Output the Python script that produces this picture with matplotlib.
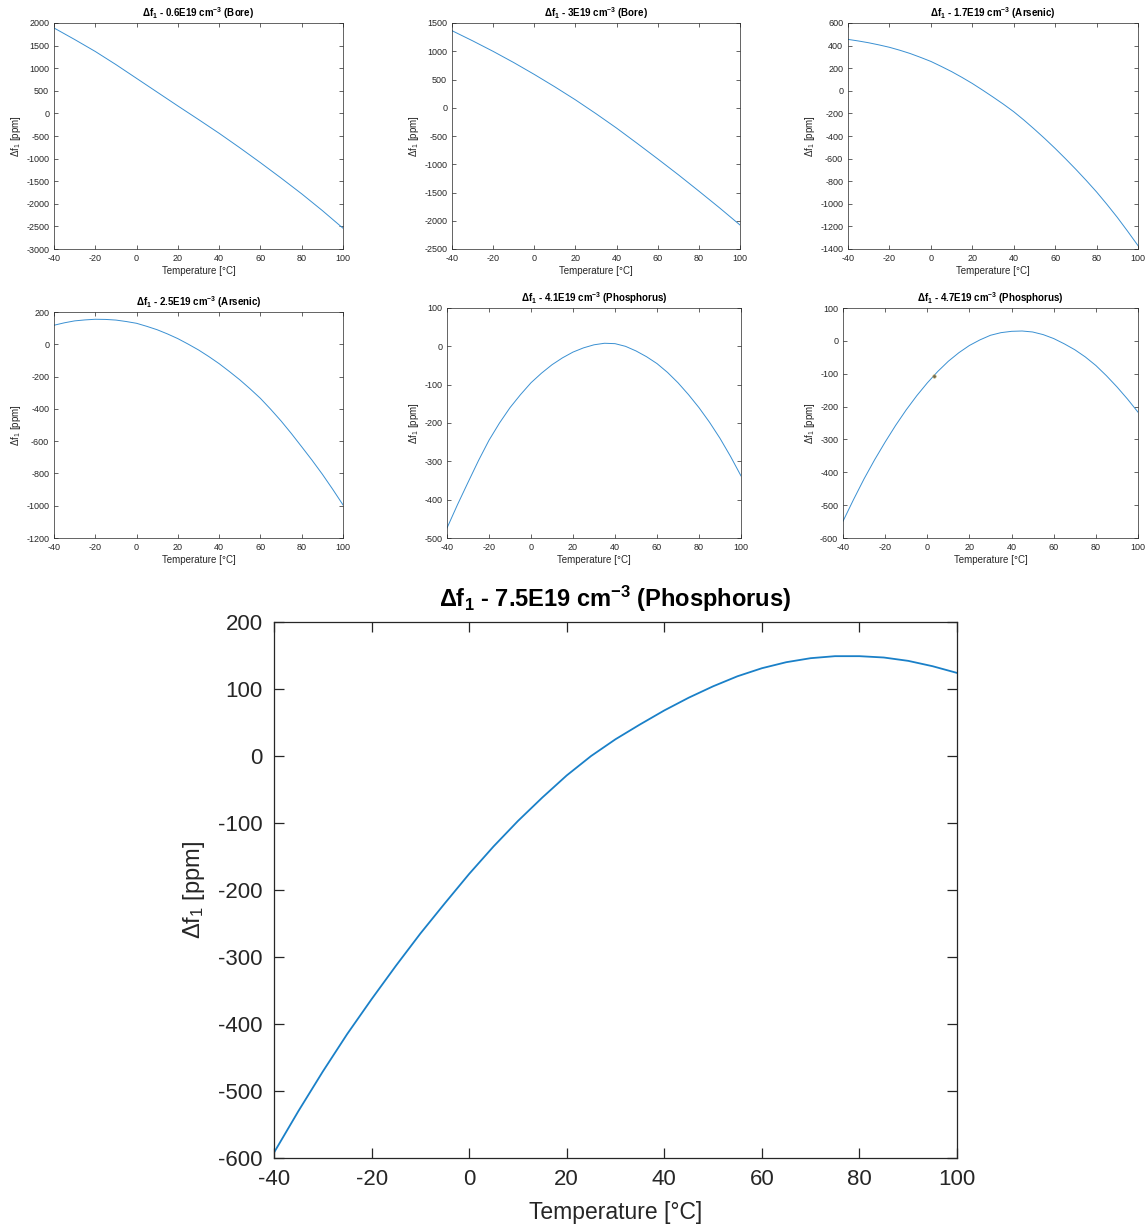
import matplotlib
matplotlib.use("Agg")
import matplotlib.pyplot as plt

# temperature grids
temp10 = [-40, -30, -20, -10, 0, 10, 20, 30, 40, 50, 60, 70, 80, 90, 100]
temp5 = [-40, -35, -30, -25, -20, -15, -10, -5, 0, 5, 10, 15, 20, 25, 30,
         35, 40, 45, 50, 55, 60, 65, 70, 75, 80, 85, 90, 95, 100]

bore_06 = [1890, 1635, 1370, 1080, 775, 470, 165, -135, -440, -760, -1090, -1430, -1780, -2150, -2540]
bore_3 = [1364, 1185, 998, 800, 590, 370, 140, -105, -360, -630, -905, -1185, -1475, -1770, -2075]
arsenic_17 = [455, 441, 425, 406, 385, 359, 330, 296, 260, 216, 170, 119, 65, 6, -55,
              -118, -185, -260, -340, -423, -510, -601, -695, -793, -895, -1005, -1120, -1243, -1370]
arsenic_25 = [118, 133, 145, 151, 155, 154, 150, 141, 130, 111, 90, 64, 35, 1, -35,
              -76, -120, -169, -220, -276, -335, -403, -475, -553, -635, -718, -805, -898, -995]
phos_41 = [-474, -413, -355, -298, -245, -200, -160, -126, -95, -70, -48, -30, -15, -4, 4,
           8, 7, 0, -12, -27, -45, -68, -95, -126, -160, -198, -240, -287, -338]
phos_47 = [-549, -483, -420, -362, -308, -257, -210, -167, -128, -93, -62, -36, -14, 3, 17,
           25, 29, 30, 27, 19, 7, -9, -27, -49, -75, -106, -140, -177, -217]
marker_47 = (3.2, -108)

# big panel, read every 5 degC
phos_75 = [-592, -530, -471, -415, -363, -313, -265, -220, -176, -135, -97, -62, -29, 0, 25,
           47, 68, 87, 104, 119, 131, 140, 146, 149, 149, 147, 142, 134, 124]

titles = ["0.6E19", "3E19", "1.7E19", "2.5E19", "4.1E19", "4.7E19"]
dopants = ["Bore", "Bore", "Arsenic", "Arsenic", "Phosphorus", "Phosphorus"]
series = [bore_06, bore_3, arsenic_17, arsenic_25, phos_41, phos_47]
grids = [temp10, temp10, temp5, temp5, temp5, temp5]
ylims = [(-3000, 2000), (-2500, 1500), (-1400, 600), (-1200, 200), (-500, 100), (-600, 100)]
ysteps = [500, 500, 200, 200, 100, 100]

plt.rcParams["font.family"] = ["Liberation Sans", "DejaVu Sans"]
plt.rcParams["mathtext.fontset"] = "custom"
plt.rcParams["mathtext.rm"] = "Liberation Sans"
plt.rcParams["mathtext.bf"] = "Liberation Sans:bold"
plt.rcParams["mathtext.it"] = "Liberation Sans"
plt.rcParams["axes.unicode_minus"] = False

W, H = 1148, 1227
fig = plt.figure(figsize=(W / 100, H / 100), dpi=100)

# axes boxes in pixels: (left, top, right, bottom)
boxes = [(54, 23, 343, 249), (452, 23, 740, 249), (848, 23, 1138, 249),
         (54, 312, 343, 538), (447, 308, 741, 538), (843, 308, 1138, 538)]

ink = "#262626"


def px_axes(l, t, r, b):
    return fig.add_axes([l / W, 1 - b / H, (r - l) / W, (b - t) / H])


def style(ax, size, lw, tl, pad):
    ax.tick_params(direction="in", top=True, right=True, length=tl, width=lw,
                   labelsize=size, colors=ink, pad=pad)
    for s in ax.spines.values():
        s.set_color(ink)
        s.set_linewidth(lw)


for i, box in enumerate(boxes):
    ax = px_axes(*box)
    ax.plot(grids[i], series[i], color="#3a90d2", linewidth=0.7)
    if i == 5:
        ax.plot([marker_47[0]], [marker_47[1]], "o", ms=2.5, color="#6f6a55",
                mec="#c9b36a", mew=0.4)
    ax.set_xlim(-40, 100)
    ax.set_ylim(*ylims[i])
    ax.set_xticks(range(-40, 101, 20))
    lo, hi = ylims[i]
    ax.set_yticks(range(lo, hi + 1, ysteps[i]))
    style(ax, 6.5, 0.5, 3, 3.5)
    ax.set_xlabel("Temperature [°C]", fontsize=7, color=ink, labelpad=2)
    ax.set_ylabel("\u0394f$_1$ [ppm]", fontsize=7, color=ink, labelpad=2)
    ax.set_title("\u0394f$_{\\mathbf{1}}$ - %s cm$^{\\mathbf{-3}}$ (%s)" % (titles[i], dopants[i]),
                 fontsize=7, fontweight="bold", color="black", pad=4)

# big panel
ax = px_axes(274, 622, 957, 1158)
ax.plot(temp5, phos_75, color="#1a80c8", linewidth=1.3)
ax.set_xlim(-40, 100)
ax.set_ylim(-600, 200)
ax.set_xticks(range(-40, 101, 20))
ax.set_yticks(range(-600, 201, 100))
style(ax, 16, 0.9, 7, 8)
ax.set_xlabel("Temperature [°C]", fontsize=16.5, color=ink, labelpad=8)
ax.set_ylabel("\u0394f$_1$ [ppm]", fontsize=17, color=ink, labelpad=8)
ax.set_title("\u0394f$_{\\mathbf{1}}$ - 7.5E19 cm$^{\\mathbf{-3}}$ (Phosphorus)",
             fontsize=17, fontweight="bold", color="black", pad=11)

fig.savefig("out.png", dpi=100)
